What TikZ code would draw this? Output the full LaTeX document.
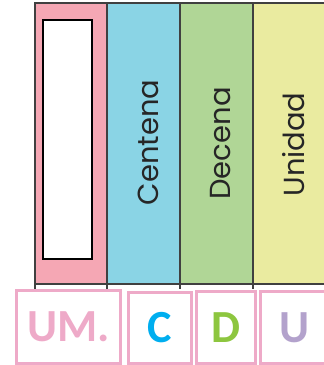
\documentclass[tikz,border=0pt]{standalone}
\usepackage{fontspec}
\newfontfamily\colfont{Poppins}
\newfontfamily\digitfont{Carlito}
\usepackage{tikz}
\usetikzlibrary{positioning}
\definecolor{umpink}{HTML}{F5A7B4}
\definecolor{cblue}{HTML}{8AD4E5}
\definecolor{dgreen}{HTML}{B0D696}
\definecolor{uyellow}{HTML}{EAEBA0}
\definecolor{rulegray}{HTML}{404040}
\definecolor{boxpink}{HTML}{EEAAC8}
\definecolor{cyantext}{HTML}{00AEEF}
\definecolor{greentext}{HTML}{8DC63F}
\definecolor{lilactext}{HTML}{B3A2CC}
\tikzset{
	column/.style={draw=rulegray, line width=1.5pt, anchor=north west, inner sep=0pt, outer sep=0pt, minimum height=281pt},
	collabel/.style={rotate=90, inner sep=0pt, text=black!85, font=\colfont\fontsize{29}{29}\selectfont},
	digitbox/.style={draw=boxpink, line width=3pt, inner sep=0pt, minimum height=73pt, font=\digitfont\bfseries\fontsize{46}{46}\selectfont}
}

\begin{document}
\begin{tikzpicture}[x=1pt,y=-1pt]
		\useasboundingbox (0,0) rectangle (324,365);
		% place value columns
		\node[column, fill=umpink, minimum width=72pt] (um) at (35,3) {};
		\node[column, fill=cblue, minimum width=73pt, right=0pt of um.north east, anchor=north west] (c) {};
		\node[column, fill=dgreen, minimum width=73pt, right=0pt of c.north east, anchor=north west] (d) {};
		\node[column, fill=uyellow, minimum width=73pt, right=0pt of d.north east, anchor=north west] (u) {};

		\node[draw=black, line width=2pt, fill=white, minimum width=48.5pt, minimum height=239pt, inner sep=0pt] (slot) at (67.25,139.5) {};

		\node[collabel] (centena) at (148.5,142.5) {Centena};
		\node[collabel] (decena) at (220.5,143.5) {Decena};
		\node[collabel] (unidad) at (293.5,144.5) {Unidad};

		% little stubs below the columns
		\foreach \n in {um,c,d,u}
			\draw[rulegray, line width=1.5pt] (\n.south west) -- ++(0,4.5);

		% digit boxes
		\node[digitbox, minimum width=104pt, text=boxpink] (umbox) at (68.5,327) {UM.};
		\node[digitbox, minimum width=63pt, minimum height=71pt, text=cyantext] (cbox) at (159.5,328) {C};
		\node[digitbox, minimum width=59pt, minimum height=72.5pt, text=greentext] (dbox) at (226,327.25) {D};
		\node[digitbox, minimum width=69.5pt, minimum height=72.5pt, text=lilactext] (ubox) at (295,327.25) {U};
	\end{tikzpicture}
\end{document}
